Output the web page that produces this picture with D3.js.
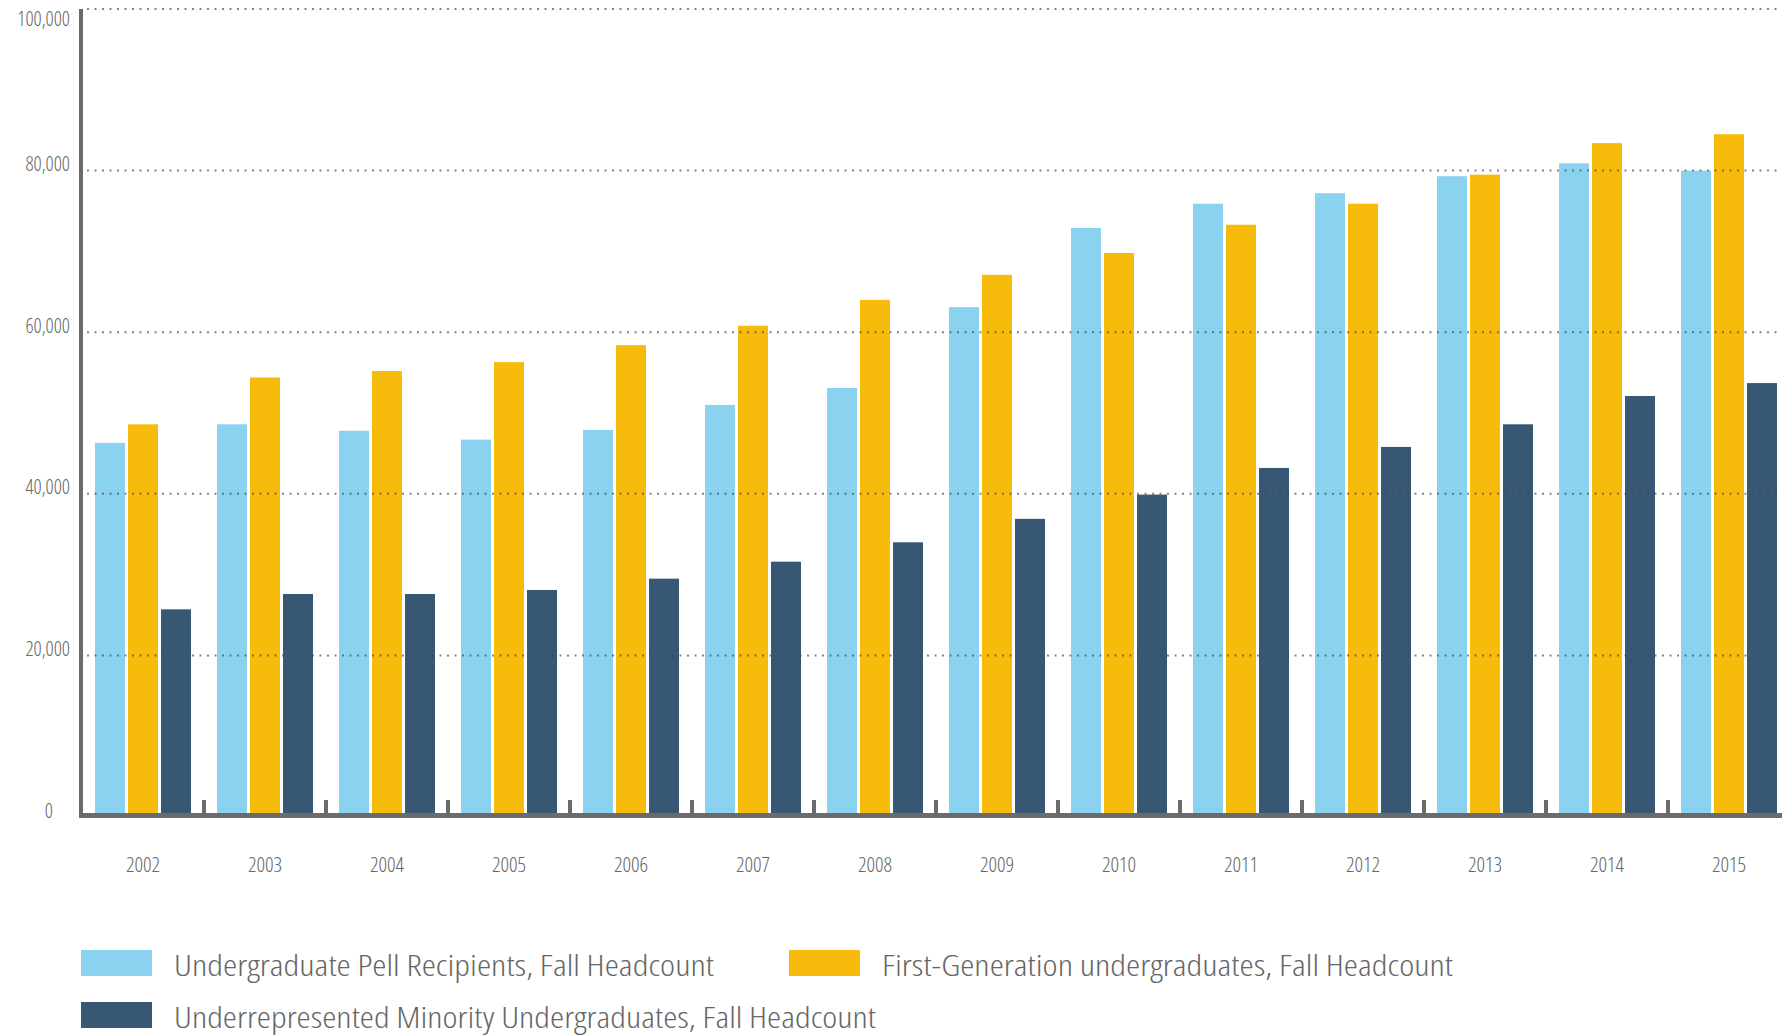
<!DOCTYPE html>
<html lang="en">
	<head>
		<meta charset="utf-8">
		<title>Undergraduate Headcount</title>
		<style type="text/css">
			body { margin: 0; background: #fff; }
			svg text {
				font-family: "Open Sans", "Liberation Sans Narrow", sans-serif;
				font-stretch: 75%;
				font-weight: 300;
				fill: #666;
			}
		</style>
	</head>
	<body>
		<div id="svg_container"></div>
		<script src="https://d3js.org/d3.v7.min.js"></script>
		<script type="text/javascript">
			// values
			var years = ["2002", "2003", "2004", "2005", "2006", "2007", "2008",
			             "2009", "2010", "2011", "2012", "2013", "2014", "2015"];
			var pell     = [46300, 48600, 47800, 46700, 47900, 51000, 53100, 63100, 72900, 75900, 77200, 79300, 80900, 80000];
			var firstGen = [48600, 54400, 55200, 56300, 58400, 60800, 64000, 67100, 69800, 73300, 75900, 79500, 83400, 84500];
			var urm      = [25700, 27600, 27600, 28100, 29500, 31600, 34000, 36900, 39900, 43200, 45800, 48600, 52100, 53700];
			var seriesNames = ["Undergraduate Pell Recipients, Fall Headcount",
			                   "First-Generation undergraduates, Fall Headcount",
			                   "Underrepresented Minority Undergraduates, Fall Headcount"];
			var yTicks = [0, 20000, 40000, 60000, 80000, 100000];

			var colors = ["#8bd1f0", "#f7bb0c", "#375775"];
			var axisColor = "#6b6b6b";

			var svgContainer = d3.select("#svg_container").append("svg")
			                     .attr("width", 1782)
			                     .attr("height", 1036);

			var axis_x = 81;
			var base_y = 817;
			var step = 122;

			var x = d3.scaleBand().domain(years)
			          .range([axis_x + 1, axis_x + 1 + step * years.length]);
			var inner = d3.scaleBand().domain([0, 1, 2])
			              .range([13, step - 13]).paddingInner(3 / 33);
			var y = d3.scaleLinear().domain([0, 100000]).range([base_y, 9]);

			var table = years.map(function(yr, i) {
				return { year: yr, values: [pell[i], firstGen[i], urm[i]] };
			});

			// bars
			var groups = svgContainer.append("g").selectAll("g")
			                .data(table).enter().append("g")
			                .attr("transform", function(d) { return "translate(" + x(d.year) + ",0)"; });

			groups.selectAll("rect")
			      .data(function(d) { return d.values; })
			      .enter().append("rect")
			      .attr("x", function(d, i) { return inner(i); })
			      .attr("width", inner.bandwidth())
			      .attr("y", function(d) { return y(d); })
			      .attr("height", function(d) { return base_y - y(d); })
			      .attr("fill", function(d, i) { return colors[i]; });

			// dotted grid lines, over the bars
			svgContainer.append("g").selectAll("line")
			            .data(yTicks.filter(function(t) { return t > 0; }))
			            .enter().append("line")
			            .attr("x1", axis_x + 6).attr("x2", 1782)
			            .attr("y1", function(d) { return y(d); })
			            .attr("y2", function(d) { return y(d); })
			            .attr("stroke", "#444")
			            .attr("stroke-opacity", 0.65)
			            .attr("stroke-width", 2)
			            .attr("stroke-dasharray", "2,5.5");

			// y axis labels
			var yAxis = svgContainer.append("g")
			                .attr("transform", "translate(" + axis_x + ",0)")
			                .call(d3.axisLeft(y).tickValues(yTicks)
			                        .tickFormat(d3.format(",")).tickSize(0).tickPadding(11));
			yAxis.select(".domain").remove();
			yAxis.selectAll("text")
			     .attr("dy", function(d) { return d == 100000 ? 16 : 0; })
			     .attr("dx", function(d) { return d == 0 ? -17 : 0; })
			     .style("font-size", "20px")
			     .attr("fill", "#666");

			// x axis labels
			var xAxis = svgContainer.append("g")
			                .attr("transform", "translate(0," + base_y + ")")
			                .call(d3.axisBottom(x).tickSize(0).tickPadding(0));
			xAxis.select(".domain").remove();
			xAxis.selectAll("text")
			     .attr("y", 55).attr("dy", 0)
			     .style("font-size", "21px")
			     .attr("fill", "#666");

			// small separator ticks between years
			svgContainer.append("g").selectAll("rect")
			            .data(years.slice(1))
			            .enter().append("rect")
			            .attr("x", function(d) { return x(d) - 2; })
			            .attr("width", 4)
			            .attr("y", 800).attr("height", 14)
			            .attr("fill", axisColor);

			// axis lines
			svgContainer.append("rect")
			            .attr("x", axis_x - 2).attr("y", 9)
			            .attr("width", 4).attr("height", 809)
			            .attr("fill", axisColor);
			svgContainer.append("rect")
			            .attr("x", axis_x - 2).attr("y", 813)
			            .attr("width", 1782).attr("height", 5)
			            .attr("fill", axisColor);

			// legend
			var legendPos = [[81, 950], [789, 950], [81, 1002]];
			var textWidths = [540, 571, 702];
			var legend = svgContainer.append("g").selectAll("g")
			                .data(seriesNames).enter().append("g")
			                .attr("transform", function(d, i) { return "translate(" + legendPos[i][0] + "," + legendPos[i][1] + ")"; });
			legend.append("rect")
			      .attr("width", 71).attr("height", 26)
			      .attr("fill", function(d, i) { return colors[i]; });
			legend.append("text")
			      .attr("x", 93).attr("y", 26)
			      .style("font-size", "30px")
			      .attr("textLength", function(d, i) { return textWidths[i]; })
			      .attr("lengthAdjust", "spacingAndGlyphs")
			      .text(function(d) { return d; });
		</script>
	</body>
</html>
